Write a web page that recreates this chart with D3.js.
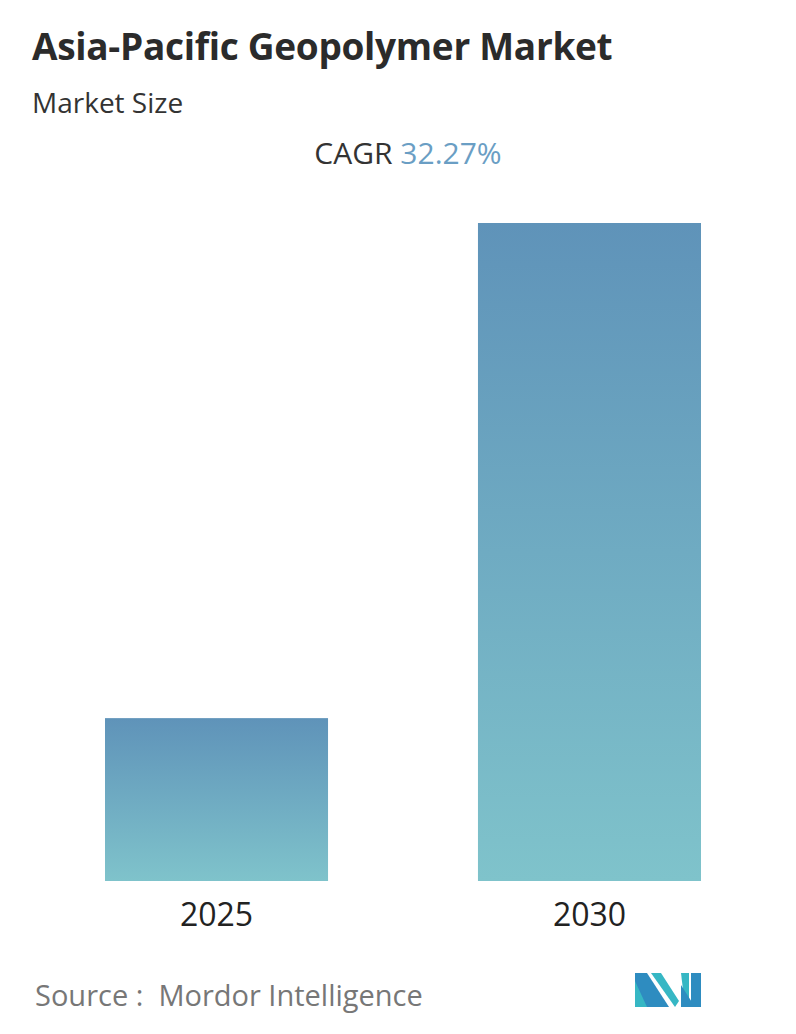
<!DOCTYPE html>
<html><head><meta charset="utf-8">
<script src="https://cdn.jsdelivr.net/npm/d3@7"></script>
<style>body{margin:0;background:#fff}</style>
</head><body><svg></svg>
<script>
const years = ["2025", "2030"];
const values = [1, 4.04];

const W = 796, H = 1034;
const svg = d3.select("svg").attr("width", W).attr("height", H)
  .style("font-family", "'Open Sans', sans-serif");

const defs = svg.append("defs");
const grad = defs.append("linearGradient").attr("id", "bg")
  .attr("x1", 0).attr("y1", 0).attr("x2", 0).attr("y2", 1);
grad.append("stop").attr("offset", "0%").attr("stop-color", "#5f93b9");
grad.append("stop").attr("offset", "100%").attr("stop-color", "#7fc3cb");

svg.append("text").attr("x", 32).attr("y", 60).attr("font-size", 37)
  .attr("font-weight", 700).attr("fill", "#2b2b2b").attr("letter-spacing", -0.3)
  .text("Asia-Pacific Geopolymer Market");
svg.append("text").attr("x", 32).attr("y", 113).attr("font-size", 28)
  .attr("fill", "#333").text("Market Size");
const cagr = svg.append("text").attr("x", 408).attr("y", 164).attr("font-size", 30)
  .attr("text-anchor", "middle");
cagr.append("tspan").attr("fill", "#333").text("CAGR ");
cagr.append("tspan").attr("fill", "#6a9ec4").text("32.27%");

const x = d3.scaleBand().domain(years).range([105, 701]).paddingInner(0.402).paddingOuter(0);
const y = d3.scaleLinear().domain([0, d3.max(values)]).range([881, 223]);

svg.selectAll("rect.bar").data(values).join("rect").attr("class", "bar")
  .attr("x", (d, i) => x(years[i])).attr("width", x.bandwidth())
  .attr("y", d => y(d)).attr("height", d => y(0) - y(d))
  .attr("fill", "url(#bg)");

svg.selectAll("text.yr").data(years).join("text").attr("class", "yr")
  .attr("x", d => x(d) + x.bandwidth() / 2).attr("y", 926)
  .attr("text-anchor", "middle").attr("font-size", 32).attr("fill", "#222").text(d => d);

svg.append("text").attr("x", 35).attr("y", 1006).attr("font-size", 29)
  .attr("fill", "#777").attr("xml:space", "preserve").text("Source :  Mordor Intelligence");

const logo = svg.append("g").attr("transform", "translate(635,973)");
logo.append("path").attr("d", "M0,0 L12,0 L34,34 L0,34 Z").attr("fill", "#2e8cc0");
logo.append("path").attr("d", "M16,0 L26,0 L44,28 L40,34 Z").attr("fill", "#36b7c4");
logo.append("path").attr("d", "M0,8 L0,34 L12,34 Z").attr("fill", "#36b7c4");
logo.append("path").attr("d", "M46,0 L54,0 L54,34 L50,34 Z").attr("fill", "#36b7c4");
logo.append("path").attr("d", "M46,12 L60,34 L46,34 Z").attr("fill", "#2e8cc0");
logo.append("path").attr("d", "M56,0 L66,0 L66,34 L56,34 Z").attr("fill", "#2e8cc0");
</script></body></html>
